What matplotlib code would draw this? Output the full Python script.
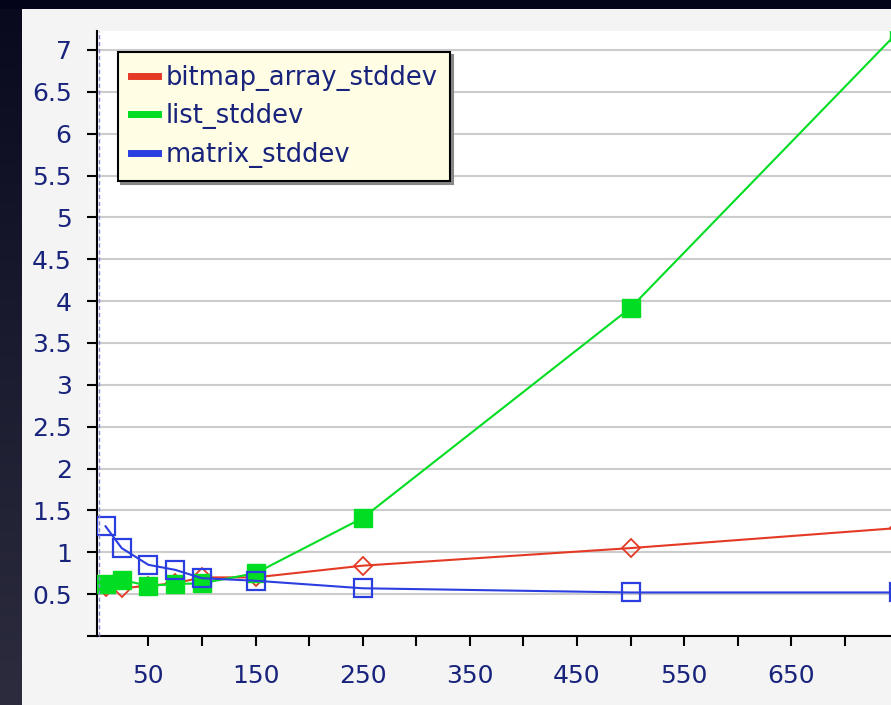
import matplotlib
matplotlib.use("Agg")
import matplotlib.pyplot as plt
import matplotlib.transforms as mtransforms
from matplotlib.patches import Rectangle
from matplotlib.lines import Line2D
from matplotlib.colors import LinearSegmentedColormap
import numpy as np

# ---- data ----
x_vals = [10, 25, 50, 75, 100, 150, 250, 500, 750]
bitmap_array_stddev = [0.58, 0.57, 0.60, 0.63, 0.70, 0.70, 0.84, 1.05, 1.29]
list_stddev = [0.62, 0.67, 0.60, 0.62, 0.63, 0.75, 1.41, 3.92, 7.22]
matrix_stddev = [1.31, 1.05, 0.85, 0.79, 0.69, 0.66, 0.57, 0.52, 0.52]
series_names = ["bitmap_array_stddev", "list_stddev", "matrix_stddev"]
y_ticks = [0, 0.5, 1, 1.5, 2, 2.5, 3, 3.5, 4, 4.5, 5, 5.5, 6, 6.5, 7]
y_tick_labels = ["", "0.5", "1", "1.5", "2", "2.5", "3", "3.5", "4", "4.5", "5", "5.5", "6", "6.5", "7"]
x_major = [50, 150, 250, 350, 450, 550, 650]
x_minor = [100, 200, 300, 400, 500, 600, 700]

RED = "#e43a25"
GREEN = "#00dd22"
BLUE = "#2b3ee0"
TXT = "#18237c"

W, H = 891, 705
fig = plt.figure(figsize=(W / 100, H / 100), dpi=100, facecolor="#03031a")

# background axes: light panel + left dark strip gradient
bg = fig.add_axes([0, 0, 1, 1], zorder=-10)
bg.set_axis_off()
bg.add_patch(Rectangle((22, 0), W - 22, H - 9, facecolor="#f4f4f4", edgecolor="none"))
grad = np.linspace(0, 1, 256).reshape(-1, 1)
cm = LinearSegmentedColormap.from_list("s", ["#0a0a1f", "#1c1c30", "#2c2c3e"])
bg.imshow(grad, aspect="auto", cmap=cm, extent=[0, 22, 0, H - 9], origin="upper")
bg.set_xlim(0, W)
bg.set_ylim(0, H)

ax = fig.add_axes([97 / W, (H - 636) / H, (W - 97) / W, (636 - 31) / H])
ax.set_facecolor("white")

ax.plot(x_vals, bitmap_array_stddev, color=RED, lw=1.5, marker="D", markersize=9.5,
        markerfacecolor="none", markeredgecolor=RED, markeredgewidth=1.3, label=series_names[0], zorder=3)
ax.plot(x_vals, list_stddev, color=GREEN, lw=1.5, marker="s", markersize=12.5,
        markerfacecolor=GREEN, markeredgecolor=GREEN, label=series_names[1], zorder=4)
ax.plot(x_vals, matrix_stddev, color=BLUE, lw=1.5, marker="s", markersize=13,
        markerfacecolor="none", markeredgecolor=BLUE, markeredgewidth=1.6, label=series_names[2], zorder=5)

ax.set_xlim(2, 743)
ax.set_ylim(0, 7.226)
ax.set_yticks(y_ticks)
ax.set_yticklabels(y_tick_labels)
ax.set_xticks(x_major)
ax.set_xticklabels([str(v) for v in x_major])
ax.set_xticks(x_minor, minor=True)

ax.yaxis.grid(True, color="#cccccc", lw=1.5, zorder=0)
ax.set_axisbelow(True)

for s in ["top", "right"]:
    ax.spines[s].set_visible(False)
ax.spines["left"].set_linewidth(1.5)
ax.spines["bottom"].set_linewidth(1.5)

ax.tick_params(axis="y", direction="out", length=7.2, width=1.5, pad=11, labelsize=18, labelcolor=TXT)
ax.tick_params(axis="x", which="both", direction="out", length=7.2, width=1.5, pad=13, labelsize=18, labelcolor=TXT)

# dashed bluish line next to y axis
off = mtransforms.offset_copy(ax.transAxes, fig=fig, x=1.3, y=0, units="points")
ax.add_line(Line2D([0, 0], [0, 1], transform=off, color="#8a8ad0", lw=1.0, ls=(0, (3, 2)), clip_on=False, zorder=6))

handles = [Line2D([], [], color=c, lw=5) for c in (RED, GREEN, BLUE)]
leg = ax.legend(handles, series_names, loc="upper left", bbox_to_anchor=(118 / W, 1 - 52 / H),
                bbox_transform=fig.transFigure, borderaxespad=0, fontsize=18.5, frameon=True,
                facecolor="#fffde3", edgecolor="black", framealpha=1, fancybox=False,
                handlelength=1.05, handletextpad=0.3, labelspacing=0.49, borderpad=0.5,
                shadow={"color": "#888888", "alpha": 1})
leg.get_frame().set_linewidth(1.5)
for t in leg.get_texts():
    t.set_color(TXT)
leg.set_zorder(10)

fig.savefig("out.png", dpi=100, facecolor=fig.get_facecolor())
